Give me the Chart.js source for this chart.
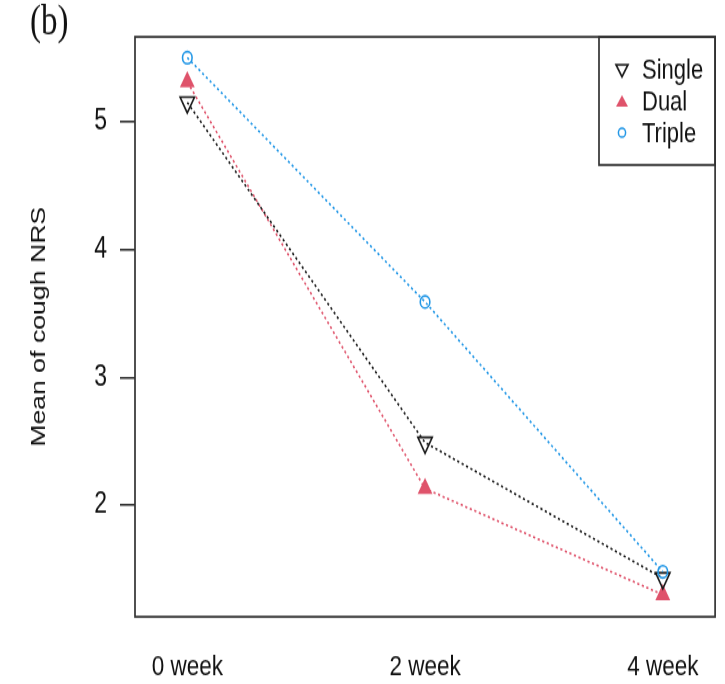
<!DOCTYPE html>
<html>
<head>
<meta charset="utf-8">
<script src="https://cdn.jsdelivr.net/npm/chart.js@4.4.1/dist/chart.umd.min.js"></script>
<style>
  html, body { margin: 0; padding: 0; background: #fff; }
  #wrap { width: 725px; height: 684px; position: relative; overflow: hidden; }
  /* the source figure is vertically stretched; the chart is drawn at 725x539 and shown at 725x684 */
  #c { width: 725px !important; height: 684px !important; display: block; }
</style>
</head>
<body>
<div id="wrap"><canvas id="c" width="725" height="539" style="width:725px;height:684px"></canvas></div>
<script>
// ---- data ----
const weeks = ["0 week", "2 week", "4 week"];
const singleVals = [5.15, 2.49, 1.43];
const dualVals   = [5.31, 2.13, 1.30];
const tripleVals = [5.50, 3.59, 1.48];
const yTickVals  = [2, 3, 4, 5];
const seriesNames = ["Single", "Dual", "Triple"];
const yTitle = "Mean of cough NRS";
const panelLabel = "(b)";

const colSingle = "#1a1a1a";
const colDual = "#DF536B";
const colTriple = "#2297E6";
const SANS = "'Liberation Sans', Arial, sans-serif";

function pts(vals) { return vals.map((v, i) => ({ x: i, y: v })); }

const frameAndLegend = {
  id: 'frameAndLegend',
  afterDraw(chart) {
    const ctx = chart.ctx;
    const a = chart.chartArea;
    ctx.save();
    // plot frame
    ctx.strokeStyle = "#333";
    ctx.lineWidth = 1.7;
    ctx.strokeRect(a.left, a.top, a.right - a.left, a.bottom - a.top);
    // legend box
    const lx = 599, ly = a.top, lw = a.right - 599, lh = 101;
    ctx.strokeRect(lx, ly, lw, lh);
    const rows = [
      { name: seriesNames[0], y: ly + 26, draw: (x, y) => { // down triangle
          ctx.beginPath(); ctx.moveTo(x - 6, y - 4); ctx.lineTo(x + 6, y - 4); ctx.lineTo(x, y + 5.5); ctx.closePath();
          ctx.strokeStyle = colSingle; ctx.lineWidth = 1.6; ctx.stroke(); } },
      { name: seriesNames[1], y: ly + 51, draw: (x, y) => {
          ctx.beginPath(); ctx.moveTo(x - 6, y + 4); ctx.lineTo(x + 6, y + 4); ctx.lineTo(x, y - 5); ctx.closePath();
          ctx.fillStyle = colDual; ctx.fill(); } },
      { name: seriesNames[2], y: ly + 75.5, draw: (x, y) => {
          ctx.beginPath(); ctx.arc(x, y, 3.6, 0, Math.PI * 2);
          ctx.strokeStyle = colTriple; ctx.lineWidth = 1.5; ctx.stroke(); } }
    ];
    ctx.font = "22px " + SANS;
    ctx.textBaseline = "middle";
    ctx.textAlign = "left";
    rows.forEach(r => {
      r.draw(622, r.y);
      ctx.fillStyle = "#111";
      ctx.fillText(r.name, 642, r.y + 1);
    });
    // y-axis title
    ctx.save();
    ctx.translate(39, (a.top + a.bottom) / 2);
    ctx.rotate(-Math.PI / 2);
    ctx.font = "21px " + SANS;
    ctx.fillStyle = "#111";
    ctx.textAlign = "center";
    ctx.textBaseline = "middle";
    ctx.fillText(yTitle, 0, 0);
    ctx.restore();
    // panel label
    ctx.font = "33px 'Liberation Serif', 'Times New Roman', serif";
    ctx.fillStyle = "#111";
    ctx.textBaseline = "alphabetic";
    ctx.textAlign = "left";
    ctx.fillText(panelLabel, 30, 27);
    ctx.restore();
  }
};

const lineDs = (label, vals, color, style, rot, fill, radius) => ({
  label, data: pts(vals),
  borderColor: color, borderWidth: 1.6, borderDash: [2.2, 2.6],
  pointStyle: style, pointRotation: rot, pointRadius: radius,
  pointBorderColor: color, pointBackgroundColor: fill ? color : 'rgba(0,0,0,0)',
  pointBorderWidth: 1.6, tension: 0, fill: false
});

new Chart(document.getElementById('c'), {
  type: 'line',
  data: {
    datasets: [
      lineDs(seriesNames[2], tripleVals, colTriple, 'circle', 0, false, 4.8),
      lineDs(seriesNames[0], singleVals, colSingle, 'triangle', 180, false, 8.3),
      lineDs(seriesNames[1], dualVals, colDual, 'triangle', 0, true, 7)
    ]
  },
  options: {
    responsive: false,
    animation: false,
    layout: { padding: { top: 29, right: 9, left: 0, bottom: 0 } },
    plugins: { legend: { display: false }, tooltip: { enabled: false } },
    scales: {
      x: {
        type: 'linear', min: -0.22, max: 2.22,
        afterBuildTicks: s => { s.ticks = weeks.map((w, i) => ({ value: i })); },
        afterFit: s => { s.height = 53; s.paddingLeft = 0; s.paddingRight = 0; },
        grid: { display: false, drawTicks: false },
        border: { display: false },
        ticks: {
          callback: v => weeks[v] ?? '',
          color: '#111', padding: 26, maxRotation: 0,
          font: { family: SANS, size: 22.5 }
        }
      },
      y: {
        type: 'linear', min: 1.128, max: 5.663,
        afterBuildTicks: s => { s.ticks = yTickVals.map(v => ({ value: v })); },
        afterFit: s => { s.width = 135; },
        grid: { drawOnChartArea: false, drawTicks: true, tickLength: 15, color: '#333', lineWidth: 1.6 },
        border: { display: false },
        ticks: {
          color: '#111', padding: 13,
          font: { family: SANS, size: 23 }
        }
      }
    }
  },
  plugins: [frameAndLegend]
});
</script>
</body>
</html>
